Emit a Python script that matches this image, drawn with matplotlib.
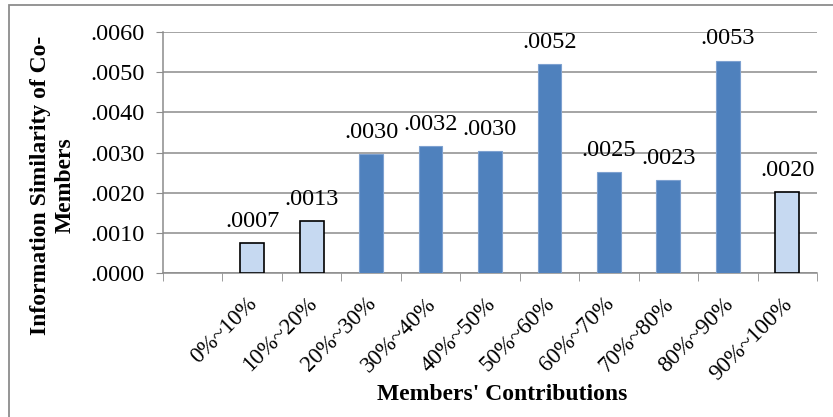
import matplotlib
matplotlib.use("Agg")
import matplotlib.pyplot as plt
import matplotlib.transforms as mtransforms
from matplotlib.patches import Rectangle
import numpy as np

categories = ["0%~10%", "10%~20%", "20%~30%", "30%~40%", "40%~50%",
              "50%~60%", "60%~70%", "70%~80%", "80%~90%", "90%~100%"]
values = [0.00074, 0.00130, 0.00296, 0.00316, 0.00304,
          0.00521, 0.00251, 0.00232, 0.00529, 0.00201]
highlight = [False, False, True, True, True, True, True, True, True, False]
yticks = [0.0, 0.001, 0.002, 0.003, 0.004, 0.005, 0.006]

plt.rcParams['font.family'] = ['Liberation Serif', 'DejaVu Serif']

fig = plt.figure(figsize=(8.33, 4.17), dpi=100)
ax = fig.add_axes([163/833, 1-273/417, (817-163)/833, (273-32)/417])

x = np.arange(len(categories))
for xi, v, h in zip(x, values, highlight):
    if h:
        ax.bar(xi, v, width=0.4, color='#4F81BD', edgecolor='#7EA1D0', linewidth=0.8, zorder=3)
    else:
        ax.bar(xi, v, width=0.4, color='#C6D9F1', edgecolor='black', linewidth=1.2, zorder=3)
    ax.annotate(f"{v:.4f}".lstrip('0'), (xi, v), xytext=(0, 8), textcoords='offset points',
                ha='center', va='bottom', fontsize=17.5, zorder=4)

ax.set_xlim(-1.5, len(categories) - 0.5)
ax.set_ylim(0, 0.006)
ax.set_yticks(yticks)
ax.set_yticklabels([f"{t:.4f}".lstrip('0') for t in yticks], fontsize=17.5)
ax.yaxis.grid(True, color='#8C8C8C', linewidth=1.1, zorder=0)
ax.tick_params(axis='y', length=5, color='#8C8C8C', pad=8)

ax.set_xticks(x)
ax.set_xticklabels(categories, rotation=45, ha='right', va='center',
                   rotation_mode='anchor', fontsize=16.5)
ax.set_xticks(np.arange(-1.5, len(categories), 1.0), minor=True)
ax.tick_params(axis='x', which='major', length=0, pad=20)
ax.tick_params(axis='x', which='minor', length=6, color='#8C8C8C')
offset = mtransforms.ScaledTranslation(2/100, 0, fig.dpi_scale_trans)
for lbl in ax.get_xticklabels():
    lbl.set_transform(lbl.get_transform() + offset)

for s in ['top', 'right']:
    ax.spines[s].set_visible(False)
ax.spines['left'].set_color('#8C8C8C')
ax.spines['bottom'].set_color('#8C8C8C')
ax.spines['left'].set_linewidth(1.1)
ax.spines['bottom'].set_linewidth(1.1)

fig.text(502/833, 1-395/417, "Members' Contributions", ha='center', va='center',
         fontsize=17, fontweight='bold')
fig.text(53/833, 1-185/417, "Information Similarity of Co-\nMembers", rotation=90,
         ha='center', va='center', fontsize=17, fontweight='bold', linespacing=1.25)

fig.add_artist(Rectangle((9/833, -0.1), 1.2, 1-5/417 + 0.1, transform=fig.transFigure,
                         fill=False, edgecolor='#8C8C8C', linewidth=1.3))

fig.savefig("out.png", dpi=100)
